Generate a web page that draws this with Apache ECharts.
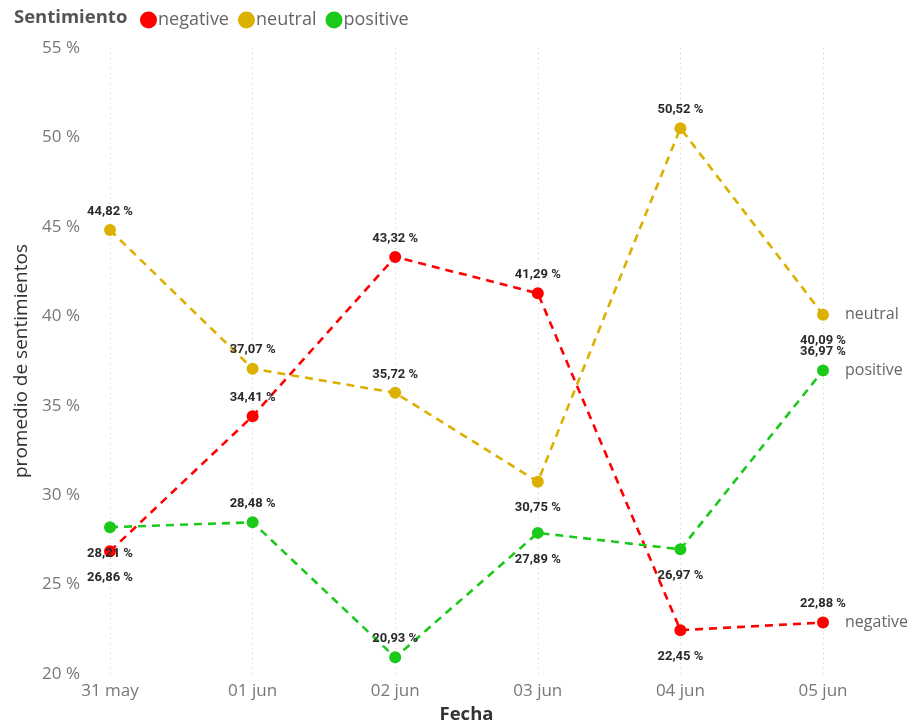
<!DOCTYPE html>
<html>
<head>
<meta charset="utf-8">
<script src="https://cdn.jsdelivr.net/npm/echarts@6/dist/echarts.min.js"></script>
<style>html,body{margin:0;padding:0;background:#fff;}#c{width:913px;height:723px;}</style>
</head>
<body>
<div id="c"></div>
<script>
const categories = ['31 may', '01 jun', '02 jun', '03 jun', '04 jun', '05 jun'];
const negative = [26.86, 34.41, 43.32, 41.29, 22.45, 22.88];
const neutral = [44.82, 37.07, 35.72, 30.75, 50.52, 40.09];
const positive = [28.21, 28.48, 20.93, 27.89, 26.97, 36.97];
const yTicks = [20, 25, 30, 35, 40, 45, 50, 55];

// label placement (style only)
const posNeg = ['bottom', 'top', 'top', 'top', 'bottom', 'top'];
const posNeu = ['top', 'top', 'top', 'bottom', 'top', 'bottom'];
const posPos = ['bottom', 'top', 'top', 'bottom', 'bottom', 'top'];

const fmt = v => v.toFixed(2).replace('.', ',') + ' %';
const font = '"Open Sans", "Noto Sans", sans-serif';

function mk(name, vals, pos, color) {
  return {
    name: name,
    type: 'line',
    data: vals.map((v, i) => ({ value: v, label: { position: pos[i], distance: pos[i] === 'bottom' ? 14 : 6 } })),
    symbol: 'circle',
    symbolSize: 12,
    itemStyle: { color: color },
    lineStyle: { color: color, width: 2.6, type: [8, 6] },
    label: {
      show: true,
      formatter: p => fmt(p.value),
      color: '#2a2a2a',
      fontFamily: 'Roboto, "DejaVu Sans", sans-serif',
      fontWeight: 'bold',
      fontSize: 13
    },
    endLabel: {
      show: true,
      formatter: '{a}',
      color: '#666',
      fontFamily: font,
      fontSize: 16,
      distance: 22
    },
    z: 3
  };
}

const chart = echarts.init(document.getElementById('c'));
chart.setOption({
  animation: false,
  title: {
    text: 'Sentimiento',
    left: 9,
    top: 3,
    textStyle: { fontFamily: font, fontSize: 18.5, fontWeight: 'bold', color: '#555' }
  },
  legend: {
    left: 135,
    top: 6,
    icon: 'circle',
    itemWidth: 17,
    itemHeight: 17,
    itemGap: 9,
    textStyle: { fontFamily: font, fontSize: 18, color: '#666', padding: [0, 0, 0, -4] },
    data: ['negative', 'neutral', 'positive']
  },
  grid: { left: 110, right: 90, top: 48, bottom: 49, containLabel: false, outerBoundsMode: 'none' },
  xAxis: {
    type: 'category',
    data: categories,
    boundaryGap: false,
    name: 'Fecha',
    nameLocation: 'middle',
    nameGap: 30,
    nameTextStyle: { fontFamily: font, fontSize: 18.5, fontWeight: 'bold', color: '#333' },
    axisLine: { show: false },
    axisTick: { show: false },
    axisLabel: { fontFamily: font, fontSize: 17, color: '#777', margin: 9 },
    splitLine: { show: true, lineStyle: { color: '#ccc', type: [1, 4], width: 1 } }
  },
  yAxis: {
    type: 'value',
    min: yTicks[0],
    max: yTicks[yTicks.length - 1],
    interval: 5,
    name: 'promedio de sentimientos',
    nameLocation: 'middle',
    nameGap: 66,
    nameTextStyle: { fontFamily: font, fontSize: 19, color: '#333' },
    axisLine: { show: false },
    axisTick: { show: false },
    splitLine: { show: false },
    axisLabel: { fontFamily: font, fontSize: 17, color: '#777', margin: 30, formatter: v => v + ' %' }
  },
  series: [
    mk('negative', negative, posNeg, '#FF0000'),
    mk('neutral', neutral, posNeu, '#DBB000'),
    mk('positive', positive, posPos, '#1BC91B')
  ]
});
</script>
</body>
</html>
